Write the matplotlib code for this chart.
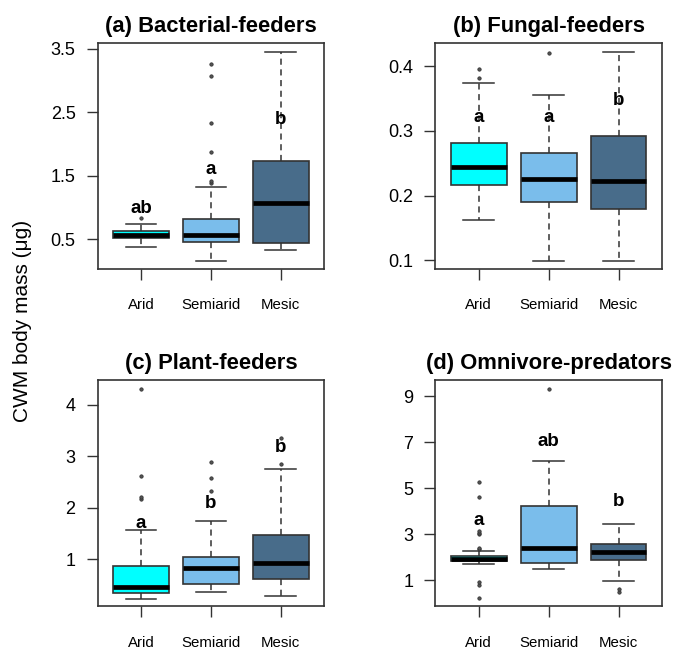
import matplotlib
matplotlib.use("Agg")
import matplotlib.pyplot as plt

plt.rcParams['font.family'] = ['Liberation Sans', 'DejaVu Sans']

sites = ["Arid", "Semiarid", "Mesic"]
colors = ["#00FFFF", "#7ABDEB", "#486C8A"]

titles = ["(a) Bacterial-feeders", "(b) Fungal-feeders",
          "(c) Plant-feeders", "(d) Omnivore-predators"]

# box statistics per panel: [Arid, Semiarid, Mesic]
whislo = [[0.37, 0.15, 0.32], [0.162, 0.099, 0.099],
          [0.24, 0.37, 0.29], [1.70, 1.49, 0.97]]
q1 = [[0.52, 0.46, 0.43], [0.2165, 0.190, 0.180],
      [0.346, 0.52, 0.62], [1.83, 1.75, 1.86]]
med = [[0.56, 0.56, 1.07], [0.2438, 0.226, 0.2226],
       [0.46, 0.825, 0.935], [1.92, 2.40, 2.22]]
q3 = [[0.62, 0.82, 1.73], [0.2814, 0.266, 0.292],
      [0.877, 1.05, 1.48], [2.03, 4.24, 2.58]]
whishi = [[0.74, 1.32, 3.45], [0.374, 0.355, 0.422],
          [1.57, 1.75, 2.75], [2.25, 6.20, 3.43]]
fliers = [
    [[0.83], [1.39, 1.41, 1.87, 2.33, 3.08, 3.26], []],
    [[0.382, 0.395], [0.420], []],
    [[2.17, 2.21, 2.61, 4.31], [2.32, 2.58, 2.89], [2.84, 3.35]],
    [[0.21, 0.77, 0.90, 2.37, 2.41, 3.00, 3.07, 3.15, 4.62, 5.28],
     [9.32], [0.50, 0.61]],
]

letters = [["ab", "a", "b"], ["a", "a", "b"], ["a", "b", "b"], ["a", "ab", "b"]]
letter_y = [[0.99, 1.60, 2.38], [0.32, 0.32, 0.347],
            [1.69, 2.08, 3.17], [3.60, 7.05, 4.43]]

yticks = [[0.5, 1.5, 2.5, 3.5], [0.1, 0.2, 0.3, 0.4],
          [1, 2, 3, 4], [1, 3, 5, 7, 9]]
ylims = [(0.026, 3.595), (0.0865, 0.436), (0.086, 4.47), (-0.15, 9.70)]

positions = [[0.145, 0.586, 0.336, 0.348], [0.646, 0.586, 0.336, 0.348],
             [0.145, 0.067, 0.336, 0.348], [0.646, 0.067, 0.336, 0.348]]

fig = plt.figure(figsize=(6.74, 6.5), dpi=100)
edge = "#333333"

for p in range(4):
    ax = fig.add_axes(positions[p])
    stats = []
    for i in range(3):
        stats.append(dict(whislo=whislo[p][i], q1=q1[p][i], med=med[p][i],
                          q3=q3[p][i], whishi=whishi[p][i], fliers=fliers[p][i]))
    bp = ax.bxp(stats, positions=[1, 2, 3], widths=0.8, patch_artist=True,
                showfliers=True,
                boxprops=dict(edgecolor=edge, linewidth=1.2),
                medianprops=dict(color="black", linewidth=3.4, solid_capstyle="butt"),
                whiskerprops=dict(color=edge, linewidth=1.1, linestyle=(0, (4, 3))),
                capprops=dict(color=edge, linewidth=1.1),
                flierprops=dict(marker="o", markersize=2.4, markerfacecolor="#555555",
                                markeredgecolor="#333333", markeredgewidth=0.6))
    for patch, c in zip(bp["boxes"], colors):
        patch.set_facecolor(c)
    for cap in bp["caps"]:
        x0, x1 = cap.get_xdata()
        xc = (x0 + x1) / 2
        cap.set_xdata([xc - 0.22, xc + 0.22])
    for i in range(3):
        ax.text(i + 1, letter_y[p][i], letters[p][i], ha="center", va="center",
                fontsize=13.5, fontweight="bold")
    ax.set_xlim(0.38, 3.62)
    ax.set_ylim(*ylims[p])
    ax.set_yticks(yticks[p])
    ax.set_yticklabels([str(t) for t in yticks[p]])
    ax.set_xticks([1, 2, 3])
    ax.set_xticklabels(sites)
    ax.tick_params(axis="y", labelsize=13, length=8, width=1, color=edge, pad=8)
    ax.tick_params(axis="x", labelsize=10.8, length=8, width=1, color=edge, pad=13)
    for s in ax.spines.values():
        s.set_color(edge)
        s.set_linewidth(1.2)
    ax.set_title(titles[p], fontsize=15.8, fontweight="bold", pad=8)

fig.text(0.034, 0.506, "CWM body mass (\u03bcg)", rotation=90, ha="center",
         va="center", fontsize=15)

fig.savefig("out.png", dpi=100)
